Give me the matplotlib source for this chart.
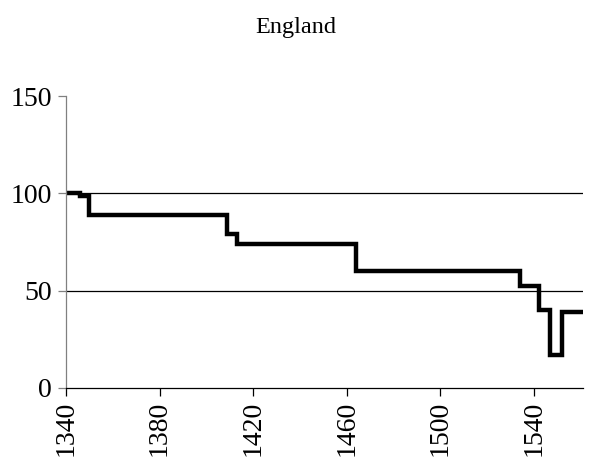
import matplotlib
matplotlib.use("Agg")
import matplotlib.pyplot as plt

# years where the index changes level, and the level from that year on
years = [1340, 1346, 1350, 1409, 1413, 1464, 1534, 1542, 1547, 1552, 1561]
index = [100, 98.5, 89, 79, 74, 60, 52.5, 40, 17, 39, 39]

xticks = [1340, 1380, 1420, 1460, 1500, 1540]
yticks = [0, 50, 100, 150]

plt.rcParams['font.family'] = ['Liberation Serif', 'DejaVu Serif']

fig = plt.figure(figsize=(5.91, 4.59), dpi=100)
ax = fig.add_axes([0.1117, 0.1547, 0.8748, 0.6361])

ax.plot(years, index, drawstyle='steps-post', color='black', lw=3.2,
        solid_joinstyle='miter')

# gridlines at 50 and 100 only
for y in yticks[1:3]:
    ax.axhline(y, color='black', lw=0.9, zorder=0)

ax.set_xlim(1340, 1561)
ax.set_ylim(0, 150)
ax.set_xticks(xticks)
ax.set_yticks(yticks)
ax.set_xticklabels([str(x) for x in xticks], rotation=90, fontsize=20)
ax.tick_params(axis='y', labelsize=20, length=6, width=0.9, color='#808080', pad=4)
ax.tick_params(axis='x', length=6, width=0.9, color='black', pad=3)

ax.spines['top'].set_visible(False)
ax.spines['right'].set_visible(False)
ax.spines['left'].set_color('#808080')
ax.spines['bottom'].set_color('black')
ax.spines['left'].set_linewidth(0.9)
ax.spines['bottom'].set_linewidth(0.9)

fig.text(0.5, 0.94, 'England', ha='center', va='center', fontsize=17.5)

fig.savefig('out.png', dpi=100)
